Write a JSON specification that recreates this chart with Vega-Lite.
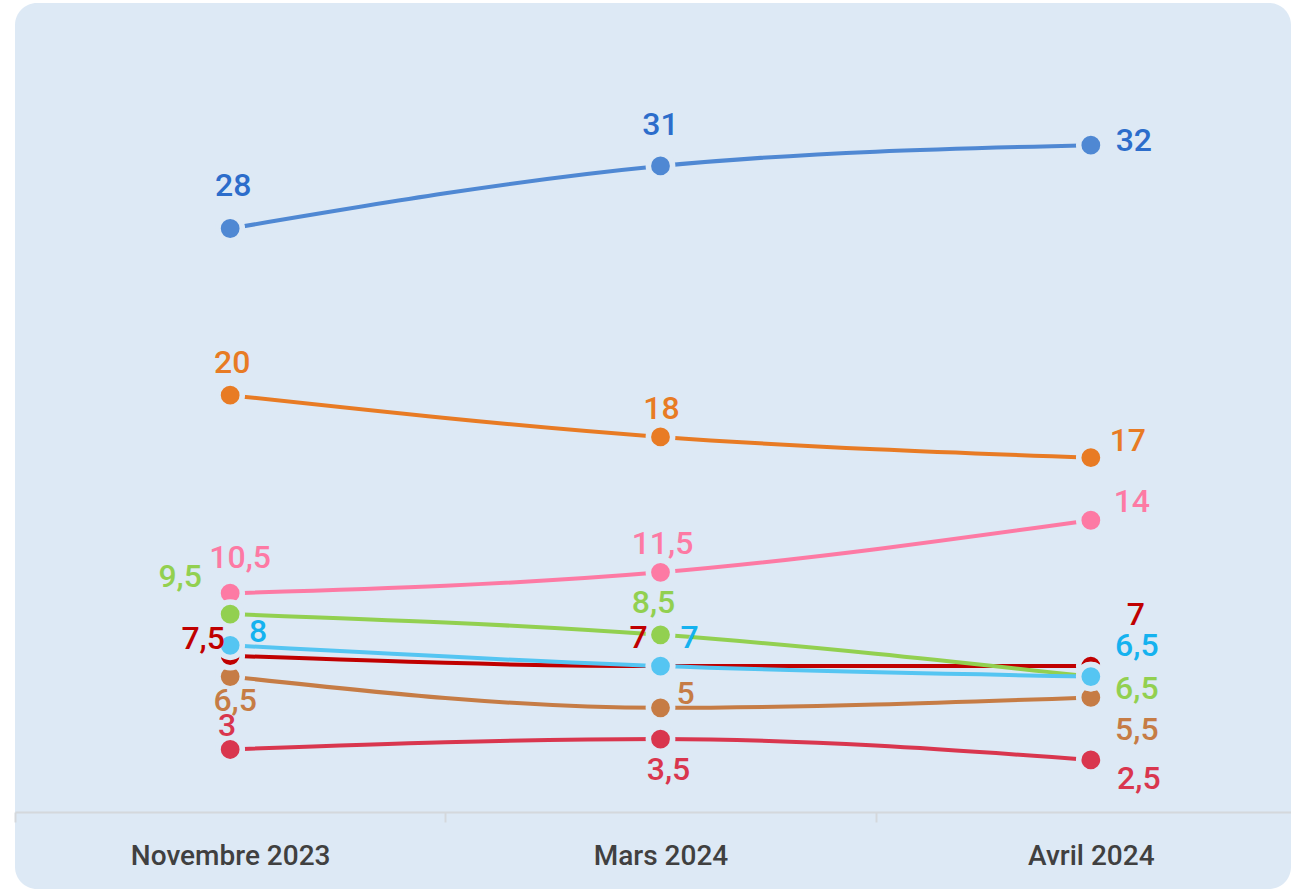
{
  "$schema": "https://vega.github.io/schema/vega-lite/v6.json",
  "autosize": "none",
  "padding": {"left": 15, "top": 3, "right": 0, "bottom": 1},
  "width": 1276,
  "height": 886,
  "background": "#ffffff",
  "config": {
    "view": {"fill": "#dde9f5", "stroke": null, "cornerRadius": 22},
    "locale": {"number": {"decimal": ",", "thousands": " ", "grouping": [3], "currency": ["", " €"]}},
    "axis": {"grid": false, "title": null},
    "text": {"font": "Roboto", "fontSize": 32, "fontWeight": 500, "baseline": "middle"}
  },
  "data": {"values": [
    {"serie": "RN", "mois": "Novembre 2023", "valeur": 28},
    {"serie": "RN", "mois": "Mars 2024", "valeur": 31},
    {"serie": "RN", "mois": "Avril 2024", "valeur": 32},
    {"serie": "Renaissance", "mois": "Novembre 2023", "valeur": 20},
    {"serie": "Renaissance", "mois": "Mars 2024", "valeur": 18},
    {"serie": "Renaissance", "mois": "Avril 2024", "valeur": 17},
    {"serie": "PS-PP", "mois": "Novembre 2023", "valeur": 10.5},
    {"serie": "PS-PP", "mois": "Mars 2024", "valeur": 11.5},
    {"serie": "PS-PP", "mois": "Avril 2024", "valeur": 14},
    {"serie": "Reconquête", "mois": "Novembre 2023", "valeur": 6.5},
    {"serie": "Reconquête", "mois": "Mars 2024", "valeur": 5},
    {"serie": "Reconquête", "mois": "Avril 2024", "valeur": 5.5},
    {"serie": "PCF", "mois": "Novembre 2023", "valeur": 3},
    {"serie": "PCF", "mois": "Mars 2024", "valeur": 3.5},
    {"serie": "PCF", "mois": "Avril 2024", "valeur": 2.5},
    {"serie": "LFI", "mois": "Novembre 2023", "valeur": 7.5},
    {"serie": "LFI", "mois": "Mars 2024", "valeur": 7},
    {"serie": "LFI", "mois": "Avril 2024", "valeur": 7},
    {"serie": "EELV", "mois": "Novembre 2023", "valeur": 9.5},
    {"serie": "EELV", "mois": "Mars 2024", "valeur": 8.5},
    {"serie": "EELV", "mois": "Avril 2024", "valeur": 6.5},
    {"serie": "LR", "mois": "Novembre 2023", "valeur": 8},
    {"serie": "LR", "mois": "Mars 2024", "valeur": 7},
    {"serie": "LR", "mois": "Avril 2024", "valeur": 6.5}
  ]},
  "encoding": {
    "x": {
      "field": "mois", "type": "nominal", "sort": null,
      "scale": {"type": "band", "paddingInner": 0, "paddingOuter": 0, "range": [0, 1291]},
      "axis": {
        "offset": -77, "tickBand": "extent", "domainColor": "#d4d8dc", "domainWidth": 2,
        "tickColor": "#d4d8dc", "tickWidth": 2, "tickSize": 10, "labelPadding": 20,
        "labelFont": "Roboto", "labelFontSize": 28, "labelColor": "#404040",
        "labelAngle": 0, "labelFontWeight": 500, "labelLimit": 0
      }
    },
    "y": {
      "field": "valeur", "type": "quantitative",
      "scale": {"domain": [0, 38.82], "range": [809, 0], "nice": false, "zero": false},
      "axis": null
    }
  },
  "resolve": {"scale": {"color": "independent"}},
  "layer": [
    {
      "encoding": {
        "color": {
          "field": "serie", "type": "nominal", "legend": null,
          "scale": {
            "domain": ["RN", "Renaissance", "PS-PP", "Reconquête", "PCF", "LFI", "EELV", "LR"],
            "range": ["#4f88d3", "#e87b24", "#fd7aa4", "#c67c45", "#d9364e", "#c00000", "#92d050", "#55c5f2"]
          }
        }
      },
      "layer": [
        {"mark": {"type": "line", "strokeWidth": 4, "interpolate": "monotone"}},
        {"mark": {"type": "point", "shape": "circle", "filled": true, "opacity": 1, "size": 590, "stroke": "#dde9f5", "strokeWidth": 5.5, "strokeOpacity": 1}}
      ]
    },
    {
      "encoding": {
        "text": {"field": "valeur", "type": "quantitative", "format": "~g"},
        "color": {
          "field": "serie", "type": "nominal", "legend": null,
          "scale": {
            "domain": ["RN", "Renaissance", "PS-PP", "Reconquête", "PCF", "LFI", "EELV", "LR"],
            "range": ["#2c6dcb", "#e87b24", "#fd7aa4", "#c67c45", "#d9364e", "#c00000", "#92d050", "#15b2ef"]
          }
        }
      },
      "layer": [
        {"transform": [{"filter": "datum.serie=='RN' && datum.mois=='Novembre 2023'"}], "mark": {"type": "text", "dx": 3, "dy": -42}},
        {"transform": [{"filter": "datum.serie=='RN' && datum.mois=='Mars 2024'"}], "mark": {"type": "text", "dx": 0, "dy": -41}},
        {"transform": [{"filter": "datum.serie=='RN' && datum.mois=='Avril 2024'"}], "mark": {"type": "text", "dx": 43, "dy": -4}},
        {"transform": [{"filter": "datum.serie=='Renaissance' && datum.mois=='Novembre 2023'"}], "mark": {"type": "text", "dx": 2, "dy": -32}},
        {"transform": [{"filter": "datum.serie=='Renaissance' && datum.mois=='Mars 2024'"}], "mark": {"type": "text", "dx": 1, "dy": -28}},
        {"transform": [{"filter": "datum.serie=='Renaissance' && datum.mois=='Avril 2024'"}], "mark": {"type": "text", "dx": 37, "dy": -17}},
        {"transform": [{"filter": "datum.serie=='PS-PP' && datum.mois=='Novembre 2023'"}], "mark": {"type": "text", "dx": 10, "dy": -35}},
        {"transform": [{"filter": "datum.serie=='PS-PP' && datum.mois=='Mars 2024'"}], "mark": {"type": "text", "dx": 2, "dy": -28}},
        {"transform": [{"filter": "datum.serie=='PS-PP' && datum.mois=='Avril 2024'"}], "mark": {"type": "text", "dx": 41, "dy": -18}},
        {"transform": [{"filter": "datum.serie=='EELV' && datum.mois=='Novembre 2023'"}], "mark": {"type": "text", "dx": -50, "dy": -37}},
        {"transform": [{"filter": "datum.serie=='EELV' && datum.mois=='Mars 2024'"}], "mark": {"type": "text", "dx": -7, "dy": -32}},
        {"transform": [{"filter": "datum.serie=='EELV' && datum.mois=='Avril 2024'"}], "mark": {"type": "text", "dx": 46, "dy": 12}},
        {"transform": [{"filter": "datum.serie=='LR' && datum.mois=='Novembre 2023'"}], "mark": {"type": "text", "dx": 28, "dy": -13}},
        {"transform": [{"filter": "datum.serie=='LR' && datum.mois=='Mars 2024'"}], "mark": {"type": "text", "dx": 29, "dy": -28}},
        {"transform": [{"filter": "datum.serie=='LR' && datum.mois=='Avril 2024'"}], "mark": {"type": "text", "dx": 46, "dy": -31}},
        {"transform": [{"filter": "datum.serie=='LFI' && datum.mois=='Novembre 2023'"}], "mark": {"type": "text", "dx": -27, "dy": -17}},
        {"transform": [{"filter": "datum.serie=='LFI' && datum.mois=='Mars 2024'"}], "mark": {"type": "text", "dx": -22, "dy": -28}},
        {"transform": [{"filter": "datum.serie=='LFI' && datum.mois=='Avril 2024'"}], "mark": {"type": "text", "dx": 45, "dy": -51}},
        {"transform": [{"filter": "datum.serie=='Reconquête' && datum.mois=='Novembre 2023'"}], "mark": {"type": "text", "dx": 5, "dy": 24}},
        {"transform": [{"filter": "datum.serie=='Reconquête' && datum.mois=='Mars 2024'"}], "mark": {"type": "text", "dx": 25, "dy": -14}},
        {"transform": [{"filter": "datum.serie=='Reconquête' && datum.mois=='Avril 2024'"}], "mark": {"type": "text", "dx": 46, "dy": 33}},
        {"transform": [{"filter": "datum.serie=='PCF' && datum.mois=='Novembre 2023'"}], "mark": {"type": "text", "dx": -3, "dy": -23}},
        {"transform": [{"filter": "datum.serie=='PCF' && datum.mois=='Mars 2024'"}], "mark": {"type": "text", "dx": 8, "dy": 31}},
        {"transform": [{"filter": "datum.serie=='PCF' && datum.mois=='Avril 2024'"}], "mark": {"type": "text", "dx": 48, "dy": 19}}
      ]
    }
  ]
}
